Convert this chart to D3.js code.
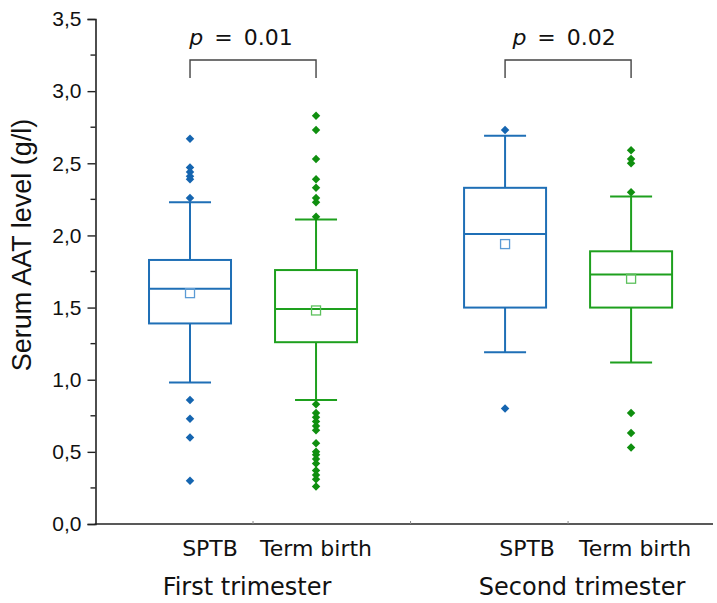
<!DOCTYPE html>
<html>
<head>
<meta charset="utf-8">
<script src="https://cdn.jsdelivr.net/npm/d3@7"></script>
<style>
    body { margin: 0; background: #fff; }
    svg { display: block; }
</style>
</head>
<body>
<div id="chart"></div>
<script>
// box statistics (g/l)
let groups = ['First trimester', 'Second trimester'];
let categories = ['SPTB', 'Term birth', 'SPTB', 'Term birth'];
let positions = [1, 2, 3.5, 4.5];
let whiskerLow = [0.98, 0.86, 1.19, 1.12];
let q1 = [1.39, 1.26, 1.50, 1.50];
let median = [1.63, 1.49, 2.01, 1.73];
let q3 = [1.83, 1.76, 2.33, 1.89];
let whiskerHigh = [2.23, 2.11, 2.69, 2.27];
let means = [1.60, 1.48, 1.94, 1.70];
let outliers = [
    [2.67, 2.47, 2.44, 2.41, 2.39, 2.26, 0.86, 0.73, 0.60, 0.30],
    [2.83, 2.73, 2.53, 2.39, 2.33, 2.26, 2.23, 2.13, 0.83, 0.77, 0.74, 0.71, 0.68, 0.65, 0.56, 0.50, 0.48, 0.45, 0.42, 0.37, 0.34, 0.31, 0.26],
    [2.73, 0.80],
    [2.59, 2.53, 2.50, 2.30, 0.77, 0.63, 0.53]
];
let pValues = ['0.01', '0.02'];
let yTicks = [0, 0.5, 1, 1.5, 2, 2.5, 3, 3.5];

let width = 717, height = 603;
let boxColor = ['#1f6fb6', '#1ea01e'];
let dotColor = ['#1565b0', '#0f8f0f'];
let meanColor = ['#5b9bd5', '#5cc05c'];

let svg = d3.select('#chart').append('svg')
    .attr('width', width)
    .attr('height', height);

let x = d3.scaleLinear().domain([0.25, 5.15]).range([95.5, 713]);
let y = d3.scaleLinear().domain([0, 3.5]).range([524, 19]);

// ----------------------------------
// axes
let yAxis = d3.axisLeft(y)
    .tickValues(yTicks)
    .tickSize(8)
    .tickPadding(6)
    .tickFormat(d => d3.format('.1f')(d).replace('.', ','));

let gy = svg.append('g')
    .attr('transform', 'translate(' + x.range()[0] + ',0)')
    .call(yAxis);
gy.select('.domain').attr('stroke', '#222').attr('stroke-width', 1.6);
gy.selectAll('.tick line').attr('stroke', '#222').attr('stroke-width', 1.4);
gy.selectAll('.tick text')
    .style('font-family', '"Liberation Sans", Arial, sans-serif')
    .style('font-size', '21px')
    .attr('fill', '#111');

// minor ticks
let minor = d3.range(0.25, 3.5, 0.5);
svg.append('g').selectAll('line')
    .data(minor)
    .enter().append('line')
    .attr('x1', x.range()[0] - 5)
    .attr('x2', x.range()[0])
    .attr('y1', d => y(d))
    .attr('y2', d => y(d))
    .attr('stroke', '#222')
    .attr('stroke-width', 1.4);

// bottom axis line with small separator ticks
svg.append('line')
    .attr('x1', x.range()[0] - 0.8)
    .attr('x2', x.range()[1])
    .attr('y1', y(0))
    .attr('y2', y(0))
    .attr('stroke', '#222')
    .attr('stroke-width', 1.6);

svg.append('g').selectAll('line')
    .data([1.5, 2.75, 4])
    .enter().append('line')
    .attr('x1', d => x(d))
    .attr('x2', d => x(d))
    .attr('y1', y(0))
    .attr('y2', y(0) - 3)
    .attr('stroke', '#888')
    .attr('stroke-width', 1);

svg.append('text')
    .attr('transform', 'translate(31,' + 245 + ') rotate(-90)')
    .attr('text-anchor', 'middle')
    .style('font-family', '"Liberation Sans", Arial, sans-serif')
    .style('font-size', '27px')
    .attr('fill', '#111')
    .text('Serum AAT level (g/l)');

// category labels
let labelShift = [20, 0, 22, 4];
svg.append('g').selectAll('text')
    .data(categories)
    .enter().append('text')
    .attr('x', (d, i) => x(positions[i]) + labelShift[i])
    .attr('y', 556)
    .attr('text-anchor', 'middle')
    .style('font-family', '"DejaVu Sans", Verdana, sans-serif')
    .style('font-size', '22px')
    .attr('fill', '#111')
    .text(d => d);

svg.append('g').selectAll('text')
    .data(groups)
    .enter().append('text')
    .attr('x', (d, i) => (x(positions[i * 2]) + x(positions[i * 2 + 1])) / 2 - 6 + i * 20)
    .attr('y', 595)
    .attr('text-anchor', 'middle')
    .style('font-family', '"DejaVu Sans", Verdana, sans-serif')
    .style('font-size', '24px')
    .attr('fill', '#111')
    .text(d => d);

// ----------------------------------
// boxes
let boxW = 82, capW = 42;
let boxes = svg.append('g').selectAll('g')
    .data(positions)
    .enter().append('g')
    .attr('class', 'box');

boxes.each(function(p, i){
    let g = d3.select(this);
    let cx = x(p);
    let c = boxColor[i % 2];

    // whiskers
    g.append('line')
        .attr('x1', cx).attr('x2', cx)
        .attr('y1', y(whiskerLow[i])).attr('y2', y(q1[i]))
        .attr('stroke', c).attr('stroke-width', 2);
    g.append('line')
        .attr('x1', cx).attr('x2', cx)
        .attr('y1', y(q3[i])).attr('y2', y(whiskerHigh[i]))
        .attr('stroke', c).attr('stroke-width', 2);
    [whiskerLow[i], whiskerHigh[i]].forEach(v => {
        g.append('line')
            .attr('x1', cx - capW / 2).attr('x2', cx + capW / 2)
            .attr('y1', y(v)).attr('y2', y(v))
            .attr('stroke', c).attr('stroke-width', 2);
    });

    g.append('rect')
        .attr('x', cx - boxW / 2)
        .attr('y', y(q3[i]))
        .attr('width', boxW)
        .attr('height', y(q1[i]) - y(q3[i]))
        .attr('fill', 'none')
        .attr('stroke', c)
        .attr('stroke-width', 2);

    g.append('line')
        .attr('x1', cx - boxW / 2).attr('x2', cx + boxW / 2)
        .attr('y1', y(median[i])).attr('y2', y(median[i]))
        .attr('stroke', c).attr('stroke-width', 2);

    // mean marker
    g.append('rect')
        .attr('x', cx - 4.5)
        .attr('y', y(means[i]) - 4.5)
        .attr('width', 9)
        .attr('height', 9)
        .attr('fill', 'none')
        .attr('stroke', meanColor[i % 2])
        .attr('stroke-width', 1.3);

    // outliers as diamonds
    g.selectAll('.dot')
        .data(outliers[i])
        .enter().append('path')
        .attr('class', 'dot')
        .attr('d', d3.symbol().type(d3.symbolSquare).size(36))
        .attr('transform', d => 'translate(' + cx + ',' + y(d) + ') rotate(45)')
        .attr('fill', dotColor[i % 2]);
});

// ----------------------------------
// significance brackets
let brackets = svg.append('g').selectAll('g')
    .data(pValues)
    .enter().append('g');

brackets.append('path')
    .attr('d', (d, i) => {
        let x0 = x(positions[i * 2]), x1 = x(positions[i * 2 + 1]);
        return 'M' + x0 + ',78V60H' + x1 + 'V78';
    })
    .attr('fill', 'none')
    .attr('stroke', '#444')
    .attr('stroke-width', 1.4);

let ptext = brackets.append('text')
    .attr('x', (d, i) => (x(positions[i * 2]) + x(positions[i * 2 + 1])) / 2 - 12 + i * 8)
    .attr('y', 45)
    .attr('text-anchor', 'middle')
    .style('font-family', '"DejaVu Sans", Verdana, sans-serif')
    .style('font-size', '22px')
    .style('word-spacing', '4px')
    .attr('fill', '#111');
ptext.append('tspan').style('font-style', 'italic').text('p');
ptext.append('tspan').text(d => ' = ' + d);
</script>
</body>
</html>
